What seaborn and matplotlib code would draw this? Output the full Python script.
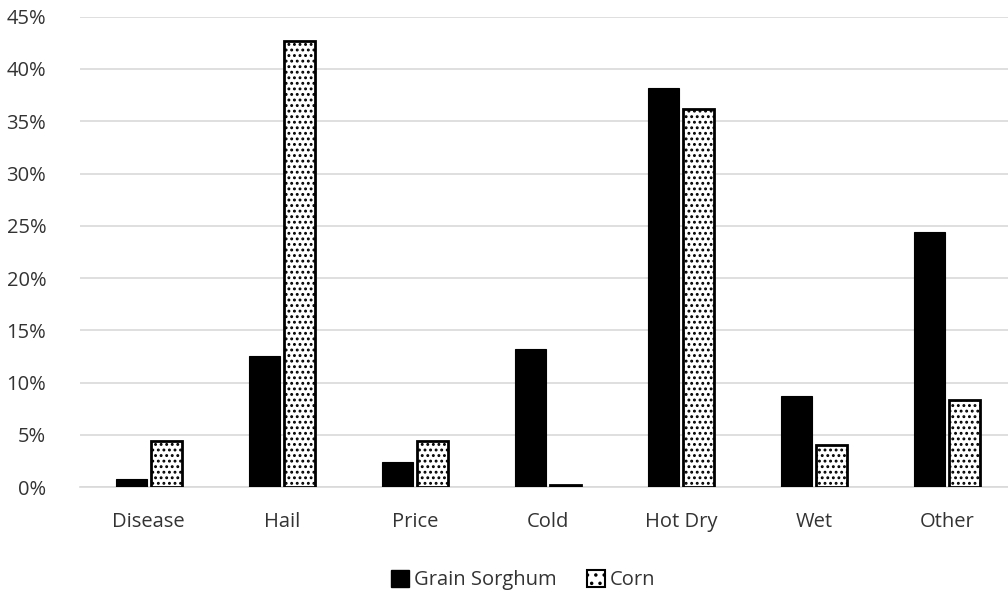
import matplotlib
matplotlib.use("Agg")
import matplotlib.pyplot as plt
import seaborn as sns
import pandas as pd
from matplotlib.patches import Patch
from matplotlib.ticker import PercentFormatter

categories = ["Disease", "Hail", "Price", "Cold", "Hot Dry", "Wet", "Other"]
series_names = ["Grain Sorghum", "Corn"]
sorghum = [0.8, 12.5, 2.4, 13.2, 38.2, 8.7, 24.4]
corn = [4.4, 42.7, 4.4, 0.2, 36.2, 4.0, 8.3]

df = pd.DataFrame({
    "cat": categories * 2,
    "series": [series_names[0]] * len(categories) + [series_names[1]] * len(categories),
    "val": sorghum + corn,
})

sns.set_theme(style="white")
plt.rcParams["font.family"] = ["Open Sans", "DejaVu Sans"]
plt.rcParams["hatch.linewidth"] = 1.3

fig = plt.figure(figsize=(10.08, 5.97), dpi=100)
ax = fig.add_axes([0.079, 0.184, 0.921, 0.788])

sns.barplot(data=df, x="cat", y="val", hue="series", order=categories,
            hue_order=series_names, palette=["black", "white"],
            width=0.53, gap=0.12, ax=ax, legend=False, zorder=3)

for bar in ax.containers[0]:
    bar.set_edgecolor("black")
    bar.set_linewidth(0.8)
for bar in ax.containers[1]:
    bar.set_facecolor("white")
    bar.set_edgecolor("black")
    bar.set_linewidth(2.0)
    bar.set_hatch("...")

ax.set_ylim(0, 45)
ax.set_xlim(-0.52, 6.46)
ax.set_yticks(range(0, 46, 5))
ax.yaxis.set_major_formatter(PercentFormatter(decimals=0))
ax.grid(axis="y", color="#d9d9d9", linewidth=1.2, zorder=0)
ax.set_axisbelow(True)
for s in ["top", "right", "left"]:
    ax.spines[s].set_visible(False)
ax.spines["bottom"].set_color("#d9d9d9")
ax.spines["bottom"].set_linewidth(1.2)
ax.tick_params(axis="both", length=0, labelsize=14.5, labelcolor="#333333")
ax.tick_params(axis="x", pad=18)
ax.tick_params(axis="y", pad=24)
ax.set_xlabel("")
ax.set_ylabel("")

handles = [Patch(facecolor="black", edgecolor="black", label=series_names[0]),
           Patch(facecolor="white", edgecolor="black", hatch="..", linewidth=1.5, label=series_names[1])]
fig.legend(handles=handles, loc="center", bbox_to_anchor=(0.519, 0.028), ncol=2,
           frameon=False, fontsize=14.5, handlelength=0.9, handleheight=0.9,
           handletextpad=0.25, columnspacing=1.5, labelcolor="#333333")

fig.savefig("out.png", dpi=100)
